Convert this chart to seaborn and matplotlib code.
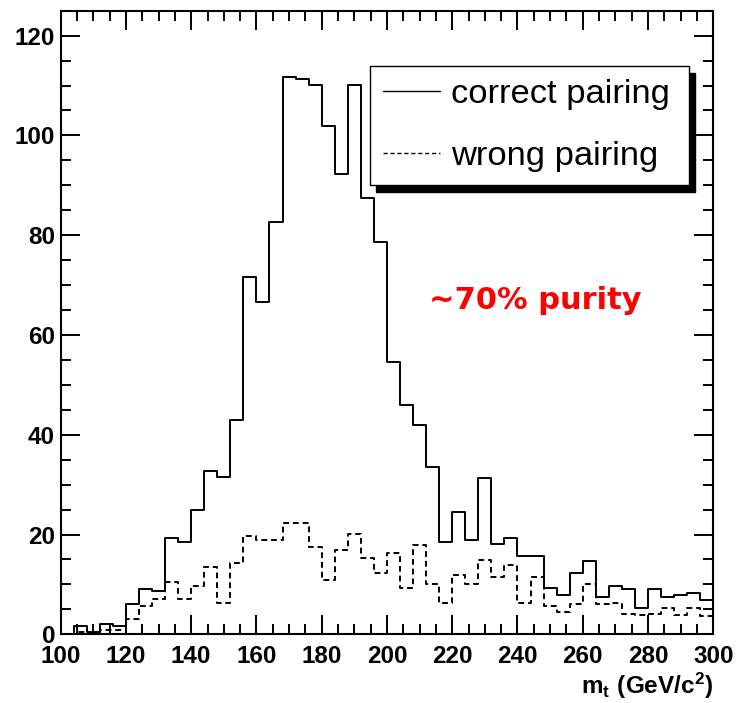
import numpy as np
import pandas as pd
import matplotlib
matplotlib.use("Agg")
import matplotlib.pyplot as plt
from matplotlib.ticker import MultipleLocator
import seaborn as sns

# ---- data (50 bins of 4 GeV from 100 to 300) ----
bin_edges = list(range(100, 304, 4))
correct_pairing = [0.0, 1.7, 0.5, 2.0, 1.7, 6.1, 9.0, 8.7, 19.4, 18.5,
                   24.9, 32.7, 31.6, 43.0, 71.6, 66.7, 82.7, 111.8, 111.4, 110.1,
                   101.9, 92.3, 110.1, 87.5, 78.6, 54.5, 46.0, 41.9, 33.5, 18.6,
                   24.5, 18.9, 31.3, 18.2, 19.3, 15.6, 15.6, 9.3, 7.8, 12.2,
                   14.6, 7.4, 9.7, 9.0, 5.2, 9.0, 7.4, 7.8, 8.2, 6.8]
wrong_pairing = [0.0, 0.5, 0.5, 0.8, 0.8, 3.0, 5.6, 7.1, 10.5, 7.0,
                 9.7, 13.5, 6.3, 14.2, 19.7, 18.9, 18.9, 22.3, 22.3, 17.5,
                 10.8, 17.0, 20.2, 15.2, 12.2, 16.2, 9.2, 17.9, 10.0, 6.3,
                 11.8, 10.0, 14.9, 11.5, 13.8, 6.3, 11.5, 5.6, 4.4, 6.0,
                 10.0, 6.0, 6.3, 4.1, 3.8, 4.1, 5.3, 3.8, 5.3, 3.6]
series_labels = ["correct pairing", "wrong pairing"]
x_label = r"$\mathbf{m_{t}\ (GeV/c^{2})}$"
annotation = "~70% purity"

edges = [float(e) for e in bin_edges]
centers = [(a + b) / 2 for a, b in zip(edges[:-1], edges[1:])]
df_correct = pd.DataFrame({"mt": centers, "w": correct_pairing})
df_wrong = pd.DataFrame({"mt": centers, "w": wrong_pairing})

sns.set_theme(style="ticks")
plt.rcParams["font.family"] = ["Liberation Sans", "DejaVu Sans"]
plt.rcParams["mathtext.fontset"] = "custom"
plt.rcParams["mathtext.bf"] = "Liberation Sans:bold"
plt.rcParams["mathtext.rm"] = "Liberation Sans"
for key in ["text.color", "axes.labelcolor", "xtick.color", "ytick.color", "axes.edgecolor"]:
    plt.rcParams[key] = "black"

fig = plt.figure(figsize=(7.38, 7.03), dpi=100)
ax = fig.add_axes([0.0822, 0.0977, 0.8843, 0.8871])

lw = 1.4
sns.histplot(data=df_correct, x="mt", weights="w", bins=edges,
             element="step", fill=False, color="black", linewidth=lw, ax=ax,
             label=series_labels[0])
sns.histplot(data=df_wrong, x="mt", weights="w", bins=edges,
             element="step", fill=False, color="black", linewidth=lw,
             linestyle=(0, (3, 2)), ax=ax, label=series_labels[1])

ax.set_xlim(100, 300)
ax.set_ylim(0, 125)
ax.set_ylabel("")
ax.xaxis.set_major_locator(MultipleLocator(20))
ax.xaxis.set_minor_locator(MultipleLocator(5))
ax.yaxis.set_major_locator(MultipleLocator(20))
ax.yaxis.set_minor_locator(MultipleLocator(5))
ax.tick_params(which="both", direction="in", top=True, right=True, color="black",
               labelcolor="black", width=1.4)
ax.tick_params(which="major", length=14)
ax.tick_params(which="minor", length=7.5)
ax.tick_params(axis="x", which="major", pad=8, labelsize=17.5)
ax.tick_params(axis="y", which="major", pad=4, labelsize=17.5)
for lab in ax.get_xticklabels() + ax.get_yticklabels():
    lab.set_fontweight("bold")
for sp in ax.spines.values():
    sp.set_linewidth(1.5)
    sp.set_color("black")

ax.set_xlabel(x_label, fontsize=17.5, loc="right", color="black")
ax.xaxis.set_label_coords(1.0, -0.058)
ax.xaxis.label.set_verticalalignment("top")
ax.xaxis.label.set_horizontalalignment("right")

leg = ax.legend(loc="lower left", bbox_to_anchor=(0.474, 0.7205, 0.489, 0.2175), mode="expand",
                fontsize=24.8, frameon=True, fancybox=False, borderaxespad=0,
                borderpad=0.37, labelspacing=0.9, handlelength=1.65, handletextpad=0.34,
                labelcolor="black",
                shadow={"ox": 4.5, "oy": -5, "color": "black", "alpha": 1})
leg.get_frame().set_edgecolor("black")
leg.get_frame().set_linewidth(1.0)
leg.get_frame().set_alpha(1)
for h in leg.get_lines():
    h.set_linewidth(1.0)

ax.text(0.728, 0.536, annotation, transform=ax.transAxes, color="red", fontsize=22,
        fontweight="bold", family="DejaVu Sans", ha="center", va="center")

fig.savefig("out.png", dpi=100, facecolor="white")
